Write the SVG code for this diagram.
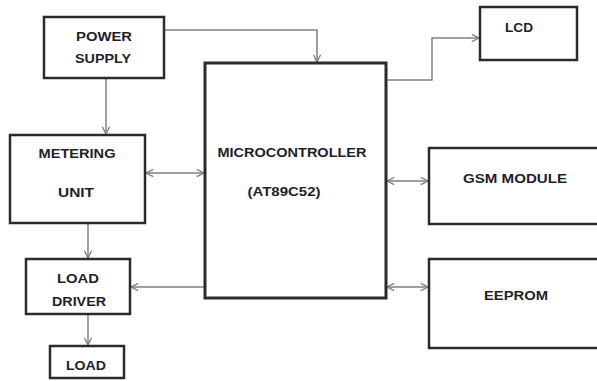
<svg xmlns="http://www.w3.org/2000/svg" width="597" height="381" viewBox="0 0 597 381">
<style>
.box{fill:#fff;stroke:#2b2b2b;stroke-width:2.5}
.lbl{font-family:"Liberation Sans",Arial,sans-serif;font-weight:bold;font-size:13.5px;fill:#1e1e2a;text-anchor:middle}
.con{fill:none;stroke:#808080;stroke-width:1.5}
</style>
<defs>
<marker id="arr" viewBox="0 0 10 10" refX="9" refY="5" markerWidth="9" markerHeight="9" markerUnits="userSpaceOnUse" orient="auto-start-reverse">
<path d="M1,1 L9,5 L1,9" fill="none" stroke="#808080" stroke-width="1.5"/>
</marker>
</defs>
<rect width="597" height="381" fill="#fff"/>
<g id="connectors">
<path class="con" d="M164,30 H317 V62" marker-end="url(#arr)"/>
<path class="con" d="M106,78 V134" marker-end="url(#arr)"/>
<path class="con" d="M146,173 H204" marker-start="url(#arr)" marker-end="url(#arr)"/>
<path class="con" d="M88,223 V258" marker-end="url(#arr)"/>
<path class="con" d="M205,287 H131" marker-end="url(#arr)"/>
<path class="con" d="M88,314 V345" marker-end="url(#arr)"/>
<path class="con" d="M386,80 H432 V38 H479" marker-end="url(#arr)"/>
<path class="con" d="M387,181 H428" marker-start="url(#arr)" marker-end="url(#arr)"/>
<path class="con" d="M387,287 H428" marker-start="url(#arr)" marker-end="url(#arr)"/>
</g>
<g id="power-supply">
<rect class="box" x="44" y="17" width="120" height="61"/>
<text class="lbl" x="104" y="41" textLength="56" lengthAdjust="spacingAndGlyphs">POWER</text>
<text class="lbl" x="103" y="63" textLength="56" lengthAdjust="spacingAndGlyphs">SUPPLY</text>
</g>
<g id="metering-unit">
<rect class="box" x="10" y="135" width="135" height="88"/>
<text class="lbl" x="77" y="158" textLength="77" lengthAdjust="spacingAndGlyphs">METERING</text>
<text class="lbl" x="76" y="197" textLength="36" lengthAdjust="spacingAndGlyphs">UNIT</text>
</g>
<g id="load-driver">
<rect class="box" x="26" y="259" width="104" height="55"/>
<text class="lbl" x="78" y="283" textLength="42" lengthAdjust="spacingAndGlyphs">LOAD</text>
<text class="lbl" x="79" y="306" textLength="54" lengthAdjust="spacingAndGlyphs">DRIVER</text>
</g>
<g id="load">
<rect class="box" x="50" y="346" width="74" height="32"/>
<text class="lbl" x="86" y="370" textLength="40" lengthAdjust="spacingAndGlyphs">LOAD</text>
</g>
<g id="microcontroller">
<rect class="box" x="205" y="63" width="181" height="235" style="stroke-width:3"/>
<text class="lbl" x="292" y="157" textLength="149" lengthAdjust="spacingAndGlyphs">MICROCONTROLLER</text>
<text class="lbl" x="284" y="196" textLength="73" lengthAdjust="spacingAndGlyphs">(AT89C52)</text>
</g>
<g id="lcd">
<rect class="box" x="480" y="7" width="97" height="53"/>
<text class="lbl" x="519" y="32" textLength="28" lengthAdjust="spacingAndGlyphs">LCD</text>
</g>
<g id="gsm-module">
<rect class="box" x="429" y="148" width="180" height="76"/>
<text class="lbl" x="515" y="183" textLength="104" lengthAdjust="spacingAndGlyphs">GSM MODULE</text>
</g>
<g id="eeprom">
<rect class="box" x="429" y="259" width="180" height="89"/>
<text class="lbl" x="516" y="300" textLength="64" lengthAdjust="spacingAndGlyphs">EEPROM</text>
</g>
</svg>
